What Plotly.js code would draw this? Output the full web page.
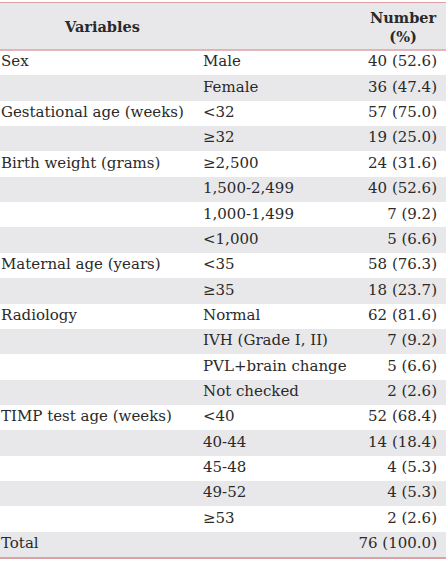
<!DOCTYPE html>
<html><head><meta charset="utf-8">
<script src="https://cdn.plot.ly/plotly-3.0.1.min.js"></script>
<style>html,body{margin:0;padding:0;overflow:hidden;background:#fff}</style>
</head><body><div id="c"></div>
<script>
const variables = ["Sex","","Gestational age (weeks)","","Birth weight (grams)","","","","Maternal age (years)","","Radiology","","","","TIMP test age (weeks)","","","","","Total"];
const categories = ["Male","Female","<32","≥32","≥2,500","1,500-2,499","1,000-1,499","<1,000","<35","≥35","Normal","IVH (Grade I, II)","PVL+brain change","Not checked","<40","40-44","45-48","49-52","≥53",""];
const counts = [40,36,57,19,24,40,7,5,58,18,62,7,5,2,52,14,4,4,2,76];
const percents = ["52.6","47.4","75.0","25.0","31.6","52.6","9.2","6.6","76.3","23.7","81.6","9.2","6.6","2.6","68.4","18.4","5.3","5.3","2.6","100.0"];
const headers = ["Variables","Number","(%)"];

const W = 446, H = 561;
const FONT = "DejaVu Serif", FS = 15, HFS = 14.5, TXT = "#2a2a2a";
const GRAY = "#e8e8ea", PINK = "#dba1a4";
const HEADER_ROWS = 47/25.35;
const rows = counts.map((_,i)=>i);
const numText = counts.map((c,i)=>c+" ("+percents[i]+")");
const hdrY = -0.5 - HEADER_ROWS/2;

const traces = [
  {type:"bar", orientation:"h", y:[hdrY].concat(rows), x:[W].concat(rows.map(()=>W)), base:0,
   width:[HEADER_ROWS].concat(rows.map(()=>1)),
   marker:{color:[GRAY].concat(rows.map(i=>i%2 ? GRAY : "rgba(0,0,0,0)")), line:{width:0}}, hoverinfo:"skip"},
  {type:"scatter", mode:"text", x:rows.map(()=>1), y:rows, text:variables, textposition:"middle right",
   textfont:{family:FONT,size:FS,color:TXT}, hoverinfo:"skip"},
  {type:"scatter", mode:"text", x:rows.map(()=>203), y:rows, text:categories, textposition:"middle right",
   textfont:{family:FONT,size:FS,color:TXT}, hoverinfo:"skip"},
  {type:"scatter", mode:"text", x:rows.map(()=>437), y:rows, text:numText, textposition:"middle left",
   textfont:{family:FONT,size:FS,color:TXT}, hoverinfo:"skip"}
];
const layout = {
  width:W, height:H, margin:{l:0,r:0,t:3,b:4}, paper_bgcolor:"#fff", plot_bgcolor:"#fff",
  showlegend:false, bargap:0,
  xaxis:{range:[0,W], visible:true, showgrid:false, zeroline:false, showticklabels:false, ticks:"",
         showline:true, mirror:true, linecolor:PINK, linewidth:1.5, fixedrange:true},
  yaxis:{range:[rows.length-0.5, -0.5-HEADER_ROWS], showgrid:false, zeroline:false, showticklabels:false,
         ticks:"", showline:false, fixedrange:true},
  shapes:[{type:"line", xref:"paper", yref:"y", x0:0, x1:1, y0:-0.5, y1:-0.5, line:{color:PINK,width:1.5}}],
  annotations:[
    {xref:"x", yref:"y", x:102, y:hdrY, text:"<b>"+headers[0]+"</b>", showarrow:false, xanchor:"center", yanchor:"middle",
     font:{family:FONT,size:HFS,color:TXT}},
    {xref:"x", yref:"y", x:403, y:hdrY, text:"<b>"+headers[1]+"</b><br><b>"+headers[2]+"</b>", showarrow:false, xanchor:"center", yanchor:"middle",
     align:"center", font:{family:FONT,size:HFS,color:TXT}}
  ]
};
Plotly.newPlot("c",traces,layout,{displayModeBar:false,staticPlot:true});
</script></body></html>
